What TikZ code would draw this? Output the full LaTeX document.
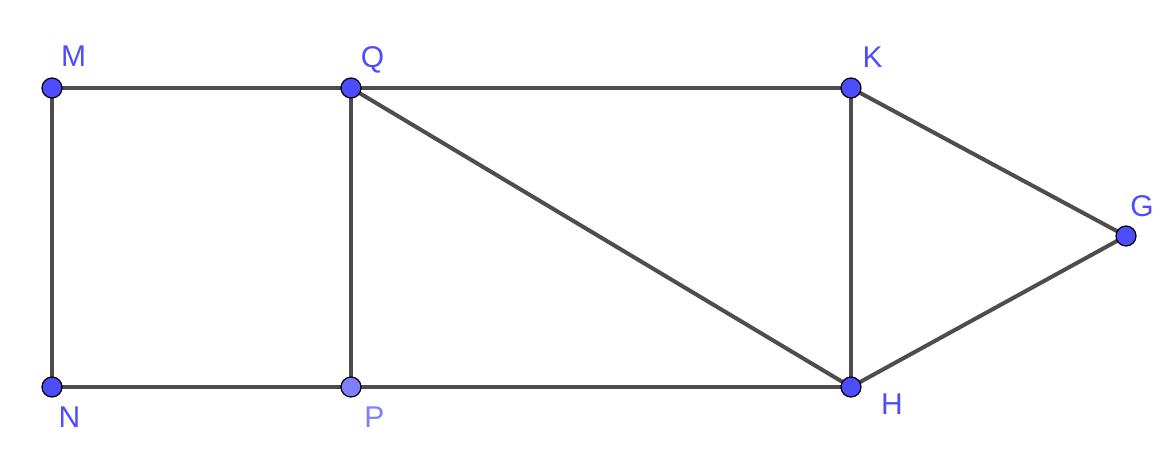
\documentclass[tikz,border=0pt]{standalone}
\usepackage{fontspec}
\setmainfont{Liberation Sans}
\definecolor{ptblue}{HTML}{4D4DFF}
\definecolor{ptlight}{HTML}{7F7FFF}
\definecolor{seg}{HTML}{4D4D4D}
\begin{document}
\begin{tikzpicture}[x=1pt,y=-1pt,
  pt/.style={circle,draw=black,line width=1.2pt,fill=ptblue,inner sep=0pt,minimum size=20pt},
  ptl/.style={pt,fill=ptlight},
  lab/.style={text=ptblue,font=\fontsize{30}{30}\selectfont,inner sep=0pt,anchor=base},
  labl/.style={lab,text=ptlight},
  edge/.style={seg,line width=4pt}]
\useasboundingbox (0,0) rectangle (1170,456);
\coordinate (M) at (52,88);
\coordinate (Q) at (351,88);
\coordinate (K) at (851,88);
\coordinate (G) at (1126,236);
\coordinate (N) at (52,387);
\coordinate (P) at (351,387);
\coordinate (H) at (851,387);
\draw[edge] (M) -- (Q);
\draw[edge] (Q) -- (K);
\draw[edge] (M) -- (N);
\draw[edge] (N) -- (P);
\draw[edge] (P) -- (H);
\draw[edge] (Q) -- (P);
\draw[edge] (Q) -- (H);
\draw[edge] (K) -- (H);
\draw[edge] (K) -- (G);
\draw[edge] (G) -- (H);
\node[pt] (m) at (M) {};
\node[pt] (q) at (Q) {};
\node[pt] (k) at (K) {};
\node[pt] (g) at (G) {};
\node[pt] (n) at (N) {};
\node[ptl] (p) at (P) {};
\node[pt] (h) at (H) {};
\node[lab] (lm) at (73.5,66.7) {M};
\node[lab] (lq) at (372.5,67) {Q};
\node[lab] (lk) at (872.5,67.3) {K};
\node[lab] (lg) at (1142,216.7) {G};
\node[lab] (ln) at (69.5,427.3) {N};
\node[labl] (lp) at (374.5,427) {P};
\node[lab] (lh) at (892,414) {H};
\end{tikzpicture}
\end{document}
